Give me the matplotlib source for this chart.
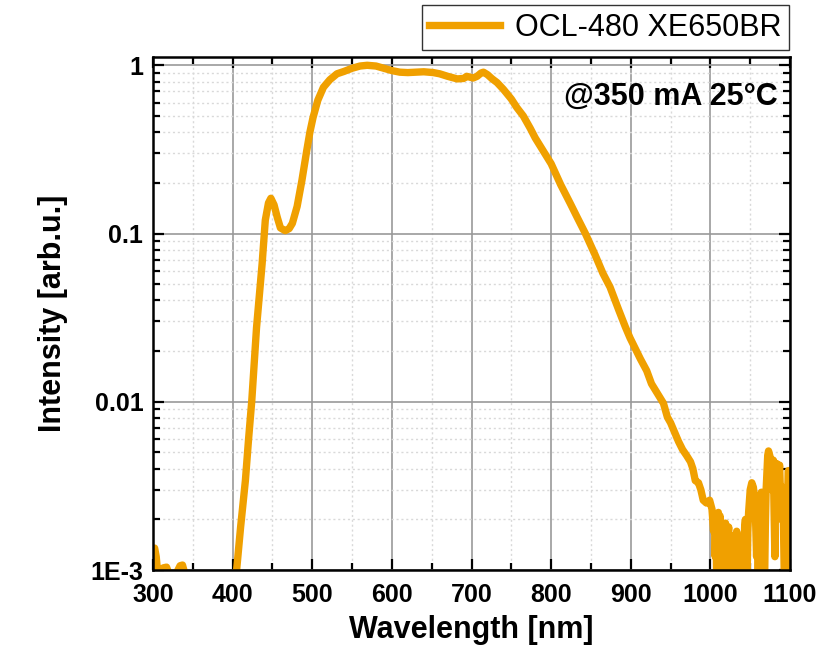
"""Emission spectrum of OCL-480 XE650BR, log intensity vs wavelength."""
import numpy as np
import matplotlib
matplotlib.use("Agg")
import matplotlib.pyplot as plt
from matplotlib.ticker import MultipleLocator, LogLocator, FixedLocator, FixedFormatter

plt.rcParams.update({"font.family": ["Liberation Sans", "DejaVu Sans"]})

ORANGE = "#F0A000"

# spectrum (nm, arb.u.)
wavelength = [
    300, 302, 304, 306, 309, 313, 317, 320, 325, 330, 334, 337, 340, 345, 360, 380, 400, 405,
    410, 416, 420, 424, 430, 434, 437, 441, 445, 448, 452, 456, 460, 466, 471, 475, 481, 487,
    493, 497, 501, 507, 514, 522, 531, 540, 550, 560, 569, 580, 590, 600, 610, 620, 630, 640,
    652, 660, 670, 682, 690, 694, 698, 702, 707, 712, 715, 720, 726, 732, 740, 750, 757, 765,
    774, 780, 790, 800, 812, 824, 833, 843, 855, 865, 874, 885, 893, 899, 905, 912, 920, 926,
    932, 937, 941, 946, 950, 955, 960, 965, 970, 975, 978, 981, 985, 988, 991, 995, 999, 1002,
    1004, 1005, 1006, 1007, 1008, 1009, 1010, 1011, 1012, 1013, 1014, 1015, 1016, 1017, 1018,
    1019, 1020, 1021, 1022, 1023, 1024, 1025, 1026, 1027, 1028, 1029, 1030, 1031, 1032, 1033,
    1034, 1035, 1036, 1037, 1038, 1039, 1040, 1041, 1042, 1043, 1044, 1045, 1046, 1047, 1048,
    1050, 1052, 1054, 1056, 1057, 1058, 1059, 1060, 1061, 1062, 1064, 1066, 1067, 1068, 1069,
    1070, 1072, 1073, 1075, 1077, 1079, 1080, 1081, 1082, 1083, 1085, 1087, 1088, 1089, 1090,
    1091, 1092, 1093, 1094, 1095, 1096, 1097, 1098, 1099, 1100,
]
intensity = [
    1.3e-3, 1.35e-3, 1.2e-3, 0.95e-3, 0.85e-3, 1.03e-3, 1.04e-3, 0.95e-3, 0.9e-3, 0.97e-3,
    1.06e-3, 1.07e-3, 0.95e-3, 7e-4, 4e-4, 4e-4, 5e-4, 1.0e-3,
    1.8e-3, 3.4e-3, 6e-3, 0.0101, 0.0276, 0.045, 0.066, 0.12, 0.152, 0.162, 0.148, 0.125,
    0.108, 0.104, 0.107, 0.115, 0.145, 0.207,
    0.31, 0.40, 0.49, 0.62, 0.74, 0.82, 0.89, 0.92, 0.96, 0.99, 1.0, 0.99, 0.96, 0.93, 0.91,
    0.905, 0.91, 0.915,
    0.905, 0.89, 0.86, 0.83, 0.835, 0.86, 0.85, 0.84, 0.86, 0.9, 0.91, 0.88, 0.83, 0.79, 0.72,
    0.63, 0.56, 0.50,
    0.42, 0.37, 0.31, 0.26, 0.195, 0.151, 0.124, 0.1, 0.075, 0.058, 0.048, 0.035, 0.028, 0.024,
    0.021, 0.018, 0.0153, 0.0128,
    0.0115, 0.0105, 0.0098, 0.0081, 0.0075, 0.0066, 0.0058, 0.0052, 0.0048, 0.0044, 0.0040,
    0.0034, 0.0033, 0.0030, 0.0026, 0.0025, 0.0026, 0.0023,
    0.0017, 0.0021, 0.0012, 0.0019, 0.0008, 0.0020, 0.0022, 0.0009, 0.0021, 0.0015, 0.0007,
    0.0019, 0.0018, 0.0008, 0.0017,
    0.0019, 0.0010, 0.0007, 0.0016, 0.0018, 0.0008, 0.0010, 0.0016, 0.0007, 0.0014, 0.0006,
    0.0012, 0.0015, 0.0008, 0.0017,
    0.0011, 0.0007, 0.0013, 0.0014, 0.0008, 0.0006, 0.0012, 0.0016, 0.0009, 0.0018, 0.0020,
    0.0011, 0.0008, 0.0017, 0.0022,
    0.0030, 0.0033, 0.0031, 0.0025, 0.0018, 0.0012, 0.0020, 0.0007, 0.0015, 0.0021, 0.0029,
    0.0022, 0.0014, 0.0008, 0.0018,
    0.0030, 0.0048, 0.0051, 0.0047, 0.0030, 0.0045, 0.0022, 0.0012, 0.0030, 0.0043, 0.0038,
    0.0042, 0.0028, 0.0020, 0.0026,
    0.0031, 0.0015, 0.0008, 0.0012, 0.0007, 0.0018, 0.0030, 0.0039, 0.0025, 0.0036,
]
label = "OCL-480 XE650BR"
condition = "@350 mA 25°C"
ytick_vals = [1e-3, 1e-2, 1e-1, 1]
ytick_labels = ["1E-3", "0.01", "0.1", "1"]

fig = plt.figure(figsize=(8.33, 6.53), dpi=100)
ax = fig.add_axes([0.1837, 0.1271, 0.7647, 0.7856])

ax.plot(wavelength, intensity, color=ORANGE, lw=5.3, solid_joinstyle="round", label=label)

ax.set_yscale("log")
ax.set_xlim(300, 1100)
ax.set_ylim(1e-3, 1.12)
ax.xaxis.set_major_locator(MultipleLocator(100))
ax.xaxis.set_minor_locator(MultipleLocator(50))
ax.yaxis.set_major_locator(FixedLocator(ytick_vals))
ax.yaxis.set_major_formatter(FixedFormatter(ytick_labels))
ax.yaxis.set_minor_locator(LogLocator(base=10, subs=np.arange(2, 10)))

ax.grid(which="major", color="#999999", lw=1.2, ls="-")
ax.grid(which="minor", color="#d9d9d9", lw=1.0, ls=(0, (1.5, 2)))
ax.set_axisbelow(True)

for s in ax.spines.values():
    s.set_linewidth(1.8)
ax.tick_params(which="both", direction="in", top=True, right=True, width=1.6)
ax.tick_params(which="major", length=8, labelsize=18)
ax.tick_params(axis="x", which="major", pad=9)
ax.tick_params(axis="y", which="major", pad=7)
ax.tick_params(which="minor", length=5)
for t in ax.get_xticklabels() + ax.get_yticklabels():
    t.set_fontweight("bold")

ax.set_xlabel("Wavelength [nm]", fontsize=22, fontweight="bold", labelpad=6)
ax.set_ylabel("Intensity [arb.u.]", fontsize=22, fontweight="bold", labelpad=16)

ax.text(0.981, 0.952, condition, transform=ax.transAxes, ha="right", va="top",
        fontsize=22, fontweight="bold")

leg = fig.legend(loc="upper right", bbox_to_anchor=(789 / 833, 1 - 5 / 653), fontsize=22,
                 frameon=True, fancybox=False, handlelength=2.3, handletextpad=0.5,
                 borderpad=0.25, borderaxespad=0)
leg.get_frame().set_edgecolor("black")
leg.get_frame().set_linewidth(1.0)

fig.savefig("out.png", dpi=100)
print("Saved out.png")
